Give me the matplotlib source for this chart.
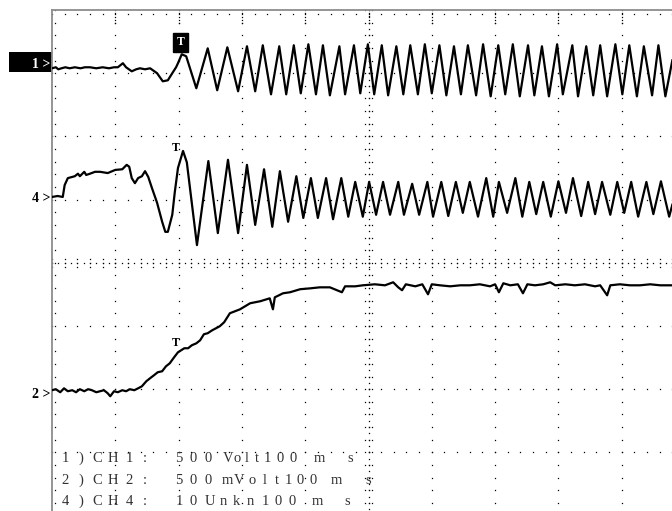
import numpy as np
import matplotlib.pyplot as plt
from matplotlib.patches import Rectangle

# time base 100 ms/div, screen is 10 x 8 divisions
# CH1 (500 V/div)
ch1_t = [0, 6, 10, 15, 21, 28, 36, 45, 52, 60, 70, 80, 90, 98, 104, 112, 117, 126, 133, 139,
         147, 155, 166, 175, 183, 190, 196, 199, 205, 212, 228, 246, 261, 277, 294, 308, 321,
         333, 346, 359, 370, 382, 393, 405, 417, 428, 439, 454, 463, 477, 487, 499,
         509, 521, 531, 544, 555, 566, 578, 589, 600, 612, 623, 635, 646, 657, 670,
         681, 693, 705, 716, 728, 739, 752, 762, 774, 785, 798, 807, 822, 831, 844,
         855, 866, 877, 890, 901, 912, 924, 935, 948, 958, 969, 980]
ch1_v = [-16, -8, -24, -16, -8, -16, -8, -16, -8, -8, -16, -8, -16, -8, -8, 24, -8, -40, -24, -16,
         -24, -16, -55, -119, -111, -55, -8, 24, 95, 79, -174, 142, -190, 150, -198, 158, -198,
         166, -222, 158, -222, 166, -214, 174, -222, 166, -230, 158, -222, 166, -214, 174,
         -222, 166, -230, 158, -222, 166, -222, 174, -214, 166, -230, 158, -222, 166, -230,
         174, -238, 166, -222, 174, -238, 166, -230, 158, -238, 174, -222, 166, -238, 158,
         -230, 166, -238, 174, -222, 166, -238, 158, -230, 166, -238, 47]

# CH4 (10 Unkn/div)
ch4_t = [0, 9, 17, 20, 25, 36, 41, 44, 51, 54, 60, 68, 76, 88, 100, 111, 118, 122, 126, 131,
         136, 142, 147, 152, 158, 166, 174, 179, 183, 190, 194, 199, 207, 213, 229, 247, 262,
         278, 294, 308, 321,
         335, 348, 360, 373, 386, 397, 409, 420, 433, 444, 457, 468, 479, 491, 501,
         512, 523, 534, 547, 556, 569, 580, 593, 602, 615, 626, 638, 649, 660, 673,
         686, 697, 706, 719, 732, 743, 754, 765, 776, 788, 800, 812, 823, 836, 847,
         858, 869, 882, 893, 904, 915, 926, 939, 950, 962, 975, 980]
ch4_u = [0.32, 0.47, 0.32, 2.2, 3.3, 3.6, 4.0, 3.6, 4.3, 3.8, 4.0, 4.3, 4.3, 4.1, 4.6, 4.7, 5.4, 5.1, 3.3, 2.5,
         3.3, 3.6, 4.4, 3.5, 1.7, -0.6, -3.6, -5.2, -5.2, -2.5, 1.1, 4.9, 7.6, 5.8, -7.3, 6.0, -5.4,
         6.2, -5.4, 5.4, -4.1,
         4.7, -4.4, 4.4, -3.6, 3.6, -3.0, 3.3, -3.0, 3.3, -3.2, 3.3, -2.8, 2.7, -2.8, 2.7,
         -2.5, 2.7, -2.5, 2.7, -2.5, 2.4, -2.5, 2.7, -2.8, 2.7, -2.7, 2.7, -2.2, 2.7, -2.8,
         3.3, -2.8, 2.7, -2.2, 3.3, -2.8, 2.7, -2.4, 2.7, -2.8, 2.8, -2.2, 3.3, -2.7, 2.7,
         -2.4, 2.7, -2.5, 2.7, -2.2, 2.7, -2.8, 2.7, -2.4, 2.8, -2.8, -0.9]

# CH2 (500 mV/div)
ch2_t = [0, 6, 13, 19, 25, 32, 38, 44, 51, 57, 63, 70, 76, 82, 88, 92, 98, 104, 111, 117,
         123, 130, 136, 142, 149, 155, 161, 167, 174, 180, 186, 193, 199, 209, 215, 221, 228,
         234, 240, 246, 253, 259, 265, 272, 281, 297, 313, 329, 344, 349, 352, 365, 376,
         392, 408, 423, 439, 458, 463, 479, 491, 510, 526, 539, 547, 553, 559, 574, 585,
         594, 600, 613, 629, 645, 660, 676, 692, 700, 706, 713, 724, 736, 744, 751, 763,
         776, 787, 795, 811, 826, 842, 858, 866, 877, 882, 897, 913, 929, 945, 961, 980]
ch2_mv = [32, 40, 16, 47, 24, 32, 16, 40, 24, 40, 32, 16, 24, 32, 8, -16, 24, 16, 32, 24,
          40, 32, 47, 63, 103, 127, 150, 174, 182, 221, 245, 293, 332, 364, 364, 388, 403,
          427, 475, 483, 506, 522, 538, 570, 641, 672, 720, 736, 759, 672, 767, 799, 807,
          831, 838, 846, 846, 807, 854, 854, 862, 870, 862, 886, 846, 823, 870, 854, 870,
          791, 870, 862, 854, 862, 862, 870, 854, 870, 807, 878, 862, 870, 799, 870, 862,
          870, 886, 862, 870, 862, 870, 854, 862, 783, 862, 870, 862, 862, 870, 862, 862]

ch1_pos, ch4_pos, ch2_pos = 3.11, 1.01, -2.08   # ground markers, div
ch1_scale, ch4_scale, ch2_scale = 500.0, 10.0, 500.0

fig = plt.figure(figsize=(6.72, 5.11), dpi=100)
ax = fig.add_axes([52 / 672, -0.009, 633 / 672, 0.9894])
ax.set_xlim(0, 10)
ax.set_ylim(-4, 4)
ax.set_xticks([])
ax.set_yticks([])
for side in ['right', 'bottom']:
    ax.spines[side].set_visible(False)
for side in ['left', 'top']:
    ax.spines[side].set_color('#8c8c8c')
    ax.spines[side].set_linewidth(1.3)

# dotted graticule
dot = dict(ls='none', marker='s', ms=0.9, mew=0, color='black', zorder=1)
mx = np.arange(0, 10.01, 0.2)
my = np.arange(-4, 4.01, 0.2)
X, Y = np.meshgrid(np.arange(1, 10), my)
ax.plot(X.ravel(), Y.ravel(), **dot)
X, Y = np.meshgrid(mx, np.arange(-3, 4))
ax.plot(X.ravel(), Y.ravel(), **dot)
ax.plot(mx, np.full_like(mx, 3.94), **dot)
ax.plot(np.full_like(my, 0.05), my, **dot)
# short dashes under the top edge at each division
X, Y = np.meshgrid(np.arange(1, 10), [3.95, 3.89, 3.84, 3.79])
ax.plot(X.ravel(), Y.ravel(), **dot)
# centre cross, denser and with side ticks
cy = np.arange(-4, 4.01, 0.1)
cx = np.arange(0, 10.01, 0.1)
ax.plot(np.full_like(cy, 5), cy, **dot)
ax.plot(cx, np.zeros_like(cx), **dot)
for d in (-0.06, 0.06):
    ax.plot(np.full_like(my, 5 + d), my, **dot)
    ax.plot(mx, np.full_like(mx, d), **dot)

# traces
trace = dict(color='black', lw=1.6, solid_joinstyle='round', zorder=3)
ax.plot(np.array(ch1_t) / 100, ch1_pos + np.array(ch1_v) / ch1_scale, **trace)
ax.plot(np.array(ch4_t) / 100, ch4_pos + np.array(ch4_u) / ch4_scale, **trace)
ax.plot(np.array(ch2_t) / 100, ch2_pos + np.array(ch2_mv) / ch2_scale, **trace)

# channel markers
mark = dict(family='Liberation Serif', weight='bold', fontsize=10, ha='right', va='center')
ax.add_patch(Rectangle((-0.68, 3.02), 0.68, 0.32, fc='black', ec='none', clip_on=False))
ax.text(-0.02, ch1_pos + 0.02, '1 >', color='white', clip_on=False, **mark)
ax.text(-0.02, ch4_pos, '4 >', color='black', clip_on=False, **mark)
ax.text(-0.02, ch2_pos, '2 >', color='black', clip_on=False, **mark)

# trigger points
tmark = dict(family='Liberation Serif', weight='bold', fontsize=8.5, ha='center', va='center')
ax.text(2.03, 3.49, 'T', color='white', zorder=4,
        bbox=dict(boxstyle='square,pad=0.3', fc='black', ec='black'), **tmark)
ax.text(1.96, 1.82, 'T', color='black', zorder=4, **tmark)
ax.text(1.96, -1.27, 'T', color='black', zorder=4, **tmark)

# channel settings, drawn glyph by glyph
info = dict(family='Liberation Serif', fontsize=10.5, color='#333333', ha='center', va='center')
rows = [
    (-3.10, [('1)CH1:', 0.205, 0.253), ('500', 2.006, 0.229), ('Volt', 2.78, 0.15),
             ('100', 3.40, 0.205), ('ms', 4.22, 0.49)]),
    (-3.44, [('2)CH2:', 0.205, 0.253), ('500', 2.006, 0.229), ('mVolt', 2.765, 0.197),
             ('100', 3.73, 0.197), ('ms', 4.50, 0.49)]),
    (-3.78, [('4)CH4:', 0.205, 0.253), ('10', 2.02, 0.205), ('Unkn', 2.50, 0.21),
             ('100', 3.365, 0.213), ('ms', 4.19, 0.474)]),
]
for y, tokens in rows:
    for s, x0, step in tokens:
        for i, ch in enumerate(s):
            ax.text(x0 + i * step, y, ch, zorder=4, **info)

fig.savefig('out.png', dpi=100)
